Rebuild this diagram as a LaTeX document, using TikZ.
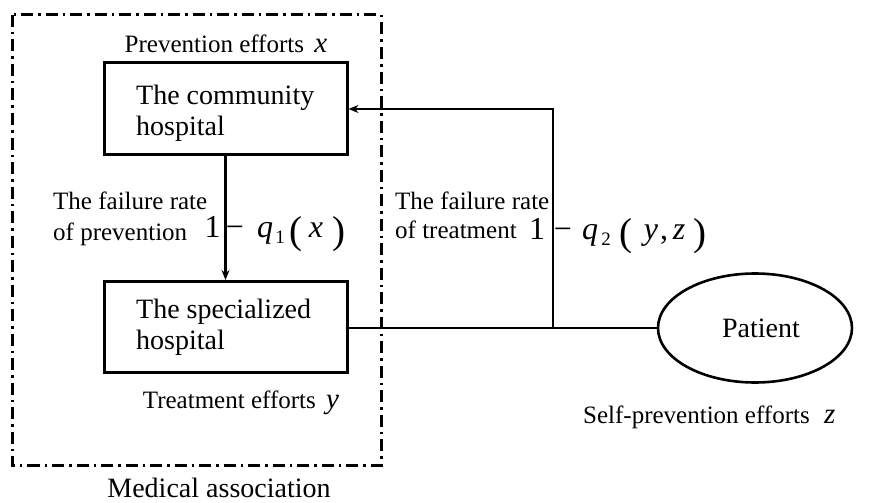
\documentclass[tikz,border=0pt]{standalone}
\usepackage{fontspec}
\setmainfont{Liberation Serif}
\usetikzlibrary{shapes.geometric,arrows.meta}
\newcommand{\vr}[1]{{\fontsize{29}{29}\selectfont\textit{#1}}}
\begin{document}
\begin{tikzpicture}[x=1pt,y=-1pt,
  hbox/.style={draw,line width=3pt,minimum width=243pt,minimum height=91pt,inner sep=0pt},
  boxtxt/.style={font=\fontsize{28}{31}\selectfont,align=left,anchor=north west,inner sep=0pt},
  small/.style={font=\fontsize{25}{29}\selectfont,inner sep=0pt},
  big/.style={font=\fontsize{28}{30}\selectfont,inner sep=0pt},
  mth/.style={font=\fontsize{32}{32}\selectfont,inner sep=0pt,anchor=base},
  mit/.style={mth,font=\fontsize{32}{32}\selectfont\itshape},
  msub/.style={font=\fontsize{19}{19}\selectfont,inner sep=0pt,anchor=base},
  par/.style={font=\fontsize{39}{39}\selectfont,inner sep=0pt,anchor=base},
  conn/.style={line width=2.6pt},
  arr/.style={conn,-{Stealth[length=10pt,width=8pt]}},
  assoc/.style={line width=3pt,dash pattern=on 12pt off 5pt on 2.5pt off 5pt}]
\useasboundingbox (0,0) rectangle (871,503);
% association frame
\draw[assoc] (12,15) rectangle (381,465);
% hospital boxes
\node[hbox] (comm) at (225.5,108.5) {};
\node[hbox] (spec) at (225.5,327) {};
\node[boxtxt] (commt) at (136,85) {The community\\hospital};
\node[boxtxt] (spect) at (136,299) {The specialized\\hospital};
% patient
\node[draw,ellipse,line width=2.6pt,minimum width=194pt,minimum height=109pt,inner sep=0pt] (pat) at (755,328) {};
\node[big] (patt) at (761,328) {Patient};
% coordinates
\coordinate (jn) at (553,328);
\coordinate (up) at (553,109);
% connectors
\draw[arr] (comm.south) -- (spec.north);
\draw[conn] (spec.east |- jn) -- (jn) -- (pat.west);
\draw[arr] (jn) -- (up) -- (comm.east |- up);
% labels
\node[small,anchor=base] (px) at (226,53) {Prevention efforts \,\vr{x}};
\node[small,anchor=base west] (fp) at (53,209) {The failure rate};
\node[small,anchor=base west] (fp2) at (53,240) {of prevention};
% 1 - q1(x)
\node[mth] (a1) at (212.5,237) {1};
\node[mth] (a2) at (235,237) {−};
\node[mit] (a3) at (265,237) {q};
\node[msub] (a4) at (280,243) {1};
\node[par] (a5) at (296,243) {(};
\node[mit] (a6) at (316,237) {x};
\node[par] (a7) at (339,243) {)};
\node[small,anchor=base] (ty) at (241,408) {Treatment efforts \,\vr{y}};
\node[font=\fontsize{28}{30}\selectfont,inner sep=0pt,anchor=base] (ma) at (219,497) {Medical association};
\node[small,anchor=base west] (ft) at (395,209) {The failure rate};
\node[small,anchor=base west] (ft2) at (395,238) {of treatment};
% 1 - q2(y,z)
\node[mth] (b1) at (537,239) {1};
\node[mth] (b2) at (563,239) {−};
\node[mit] (b3) at (590,239) {q};
\node[msub] (b4) at (606,245) {2};
\node[par] (b5) at (626,245) {(};
\node[mit] (b6) at (651,239) {y};
\node[mth] (b7) at (664,239) {,};
\node[mit] (b8) at (679,239) {z};
\node[par] (b9) at (700,245) {)};
\node[small,anchor=base west] (sz) at (583,423) {Self-prevention efforts \hspace{8pt}\vr{z}};
\end{tikzpicture}
\end{document}
